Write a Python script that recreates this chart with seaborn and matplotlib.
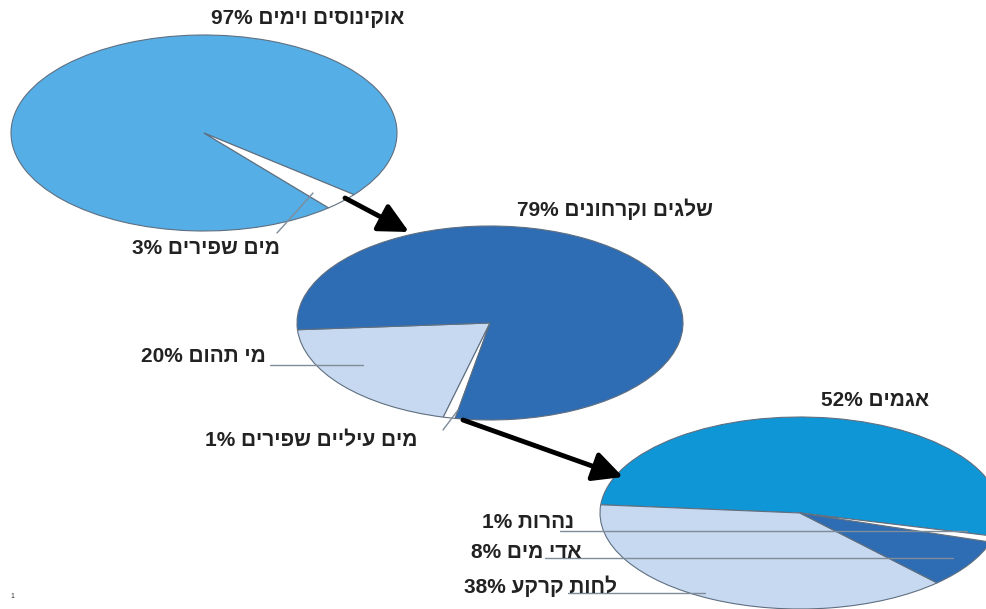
import matplotlib
matplotlib.use('Agg')
import matplotlib.pyplot as plt
import seaborn as sns

sns.set_style('white')
plt.rcParams['font.family'] = ['Liberation Sans', 'DejaVu Sans']

# ============================================
# DADOS
# ============================================
pie1_names = ['אוקינוסים וימים', 'מים שפירים']
pie1_values = [97, 3]
pie1_colors = ['#55AFE6', '#FFFFFF']

pie2_names = ['מי תהום', 'מים עיליים שפירים', 'שלגים וקרחונים']
pie2_values = [20, 1, 79]
pie2_colors = ['#C6D9F0', '#FFFFFF', '#2E6CB4']

pie3_names = ['אגמים', 'לחות קרקע', 'אדי מים', 'נהרות']
pie3_values = [52, 38, 8, 1]
pie3_colors = ['#0E96D6', '#C6D9F0', '#2E6CB4', '#FFFFFF']

W, H = 987, 609


def heb(name, v):
    # matplotlib has no bidi: write hebrew in visual order
    return f"{v}% {name[::-1]}"


def box(cx, cy, a, b, pad=1.02):
    a, b = a * pad, b * pad
    return [(cx - a) / W, 1 - (cy + b) / H, 2 * a / W, 2 * b / H]


fig = plt.figure(figsize=(W / 100, H / 100), dpi=100)

wp = dict(edgecolor='#5F6F80', linewidth=0.8)

# ============================================
# PIZZAS (elipses)
# ============================================
pies = [
    (pie1_values, pie1_colors, -39, (204, 133, 193, 98)),
    (pie2_values, pie2_colors, 184, (490, 323, 193, 97)),
    (pie3_values, pie3_colors, -14, (800, 513, 200, 96)),
]
for vals, cols, start, geo in pies:
    ax = fig.add_axes(box(*geo))
    ax.pie(vals, colors=cols, startangle=start, counterclock=True,
           wedgeprops=wp)
    ax.set_aspect('auto')
    ax.set_xlim(-1.02, 1.02)
    ax.set_ylim(-1.02, 1.02)
    ax.axis('off')

# ============================================
# TEXTOS, LINHAS E SETAS
# ============================================
ov = fig.add_axes([0, 0, 1, 1], zorder=10)
ov.set_xlim(0, W)
ov.set_ylim(H, 0)
ov.axis('off')

tk = dict(fontsize=15, fontweight='bold', color='#222222', ha='center', va='center')

ov.text(308, 19, heb(pie1_names[0], pie1_values[0]), **tk)
ov.text(206, 248, heb(pie1_names[1], pie1_values[1]), **tk)

ov.text(615, 209, heb(pie2_names[2], pie2_values[2]), **tk)
ov.text(203, 357, heb(pie2_names[0], pie2_values[0]), **tk)
ov.text(311, 440, heb(pie2_names[1], pie2_values[1]), **tk)

ov.text(875, 401, heb(pie3_names[0], pie3_values[0]), **tk)
ov.text(528, 523, heb(pie3_names[3], pie3_values[3]), **tk)
ov.text(526, 552, heb(pie3_names[2], pie3_values[2]), **tk)
ov.text(540, 586, heb(pie3_names[1], pie3_values[1]), **tk)

lc = dict(color='#7F8C99', lw=1)
ov.plot([277, 313], [233, 193], **lc)
ov.plot([270, 363], [365, 365], **lc)
ov.plot([443, 458], [430, 410], **lc)
ov.plot([560, 967], [531, 531], **lc)
ov.plot([545, 953], [558, 558], **lc)
ov.plot([568, 705], [593, 593], **lc)

ap = dict(arrowstyle='-|>,head_length=0.9,head_width=0.45', lw=3.5,
          color='black', mutation_scale=20, shrinkA=0, shrinkB=0)
ov.annotate('', xy=(409, 232), xytext=(345, 198), arrowprops=ap)
ov.annotate('', xy=(623, 477), xytext=(463, 420), arrowprops=ap)

ov.text(12, 597, '1', fontsize=5, ha='center', va='center', color='#333333')

plt.savefig('out.png', dpi=100)
plt.close('all')
